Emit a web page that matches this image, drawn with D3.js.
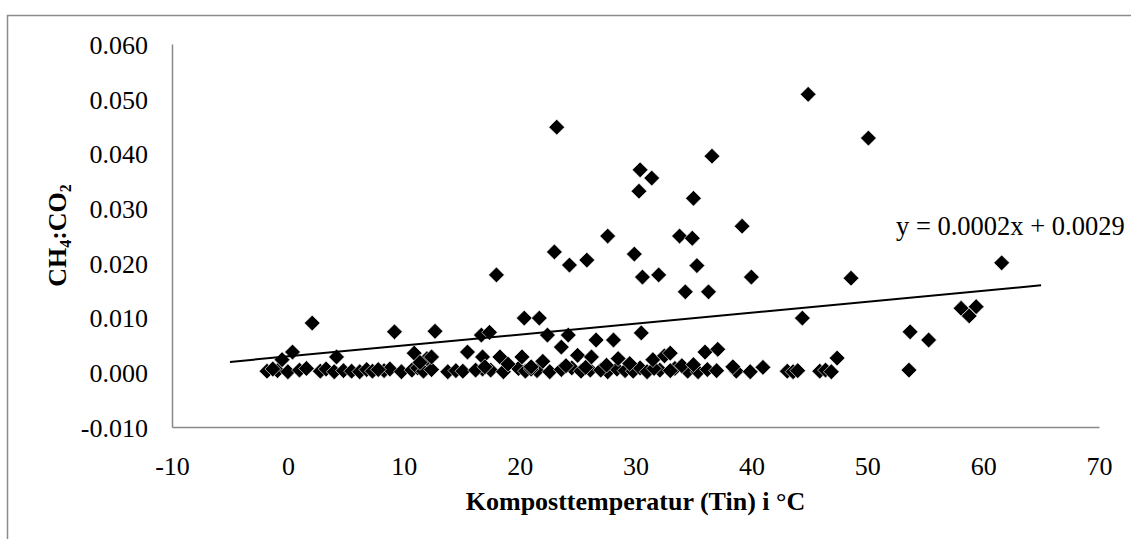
<!DOCTYPE html>
<html lang="en">
<head>
    <meta charset="UTF-8">
    <title>CH4:CO2 vs Komposttemperatur</title>
    <style>
        body {
            margin: 0;
            background: #fff;
        }
        svg text {
            font-family: "Times New Roman", "Liberation Serif", serif;
            fill: #000;
        }
        .axis path {
            stroke: #898989;
            stroke-width: 1.5;
        }
        .axis text {
            font-size: 26px;
        }
        .title {
            font-size: 26px;
            font-weight: bold;
        }
    </style>
</head>
<body>
<svg id="chart"></svg>

<script src="https://d3js.org/d3.v7.min.js"></script>
<script>
    // Points with a clear CH4:CO2 signal
    const highX = [0.4, 2.1, 9.2, 12.7, 16.7, 17.4, 18.0, 20.4, 21.7, 22.4,
        23.0, 23.2, 24.2, 24.3, 25.8, 26.6, 27.6, 28.1, 29.9, 30.3,
        30.4, 30.5, 30.6, 31.4, 32.0, 33.8, 34.3, 34.9, 35.0, 35.3,
        36.3, 36.6, 39.2, 40.0, 44.4, 44.9, 48.6, 50.1, 53.7, 55.3,
        53.6, 58.1, 58.8, 59.4, 61.6];
    const highY = [0.0037, 0.0090, 0.0074, 0.0075, 0.0068, 0.0073, 0.0178, 0.0099, 0.0099, 0.0068,
        0.0220, 0.0448, 0.0068, 0.0196, 0.0205, 0.0059, 0.0249, 0.0059, 0.0216, 0.0331,
        0.0370, 0.0072, 0.0174, 0.0355, 0.0178, 0.0249, 0.0147, 0.0245, 0.0318, 0.0195,
        0.0147, 0.0395, 0.0267, 0.0174, 0.0099, 0.0508, 0.0172, 0.0428, 0.0074, 0.0059,
        0.0004, 0.0117, 0.0103, 0.0120, 0.0200];

    // Points just above zero
    const midX = [-0.5, 4.2, 10.9, 12.0, 12.4, 15.5, 16.8, 17.0, 18.3, 20.2,
        21.0, 23.6, 24.0, 25.0, 26.2, 27.5, 28.5, 31.5, 32.5, 33.0,
        34.0, 36.0, 37.1, 38.4, 47.4, 11.4, 19.0, 22.0, 29.5, 35.0];
    const midY = [0.0023, 0.0028, 0.0035, 0.0025, 0.0028, 0.0037, 0.0028, 0.0010, 0.0028, 0.0028,
        0.0010, 0.0046, 0.0012, 0.0031, 0.0028, 0.0013, 0.0025, 0.0023, 0.0030, 0.0035,
        0.0012, 0.0037, 0.0042, 0.0010, 0.0026, 0.0018, 0.0015, 0.0020, 0.0016, 0.0014];

    // Points on the zero line
    const lowX = [-1.8, -0.9, 0.0, 1.0, 2.8, 3.3, 4.0, 4.8, 5.5, 6.2,
        6.8, 7.3, 8.3, 8.8, 9.8, 10.7, 11.2, 11.7, 12.4, 13.8,
        14.5, 15.1, 16.8, 17.5, 18.6, 19.9, 20.5, 21.5, 22.6, 23.6,
        24.5, 25.3, 26.1, 27.6, 28.4, 29.1, 29.8, 30.4, 31.0, 32.1,
        33.4, 34.5, 35.4, 36.2, 37.0, 38.7, 39.9, 41.0, 43.1, 43.6,
        44.0, 45.9, 46.4, 46.9, -1.3, 1.6, 7.8, 16.2, 21.0, 25.7,
        27.0, 31.6, 33.0];
    const lowY = [0.0002, 0.0003, 0.0001, 0.0004, 0.0002, 0.0006, 0.0001, 0.0003, 0.0002, 0.0001,
        0.0005, 0.0002, 0.0003, 0.0006, 0.0001, 0.0004, 0.0008, 0.0002, 0.0005, 0.0001,
        0.0003, 0.0002, 0.0006, 0.0004, 0.0001, 0.0007, 0.0002, 0.0003, 0.0001, 0.0005,
        0.0008, 0.0002, 0.0004, 0.0001, 0.0006, 0.0003, 0.0002, 0.0008, 0.0001, 0.0004,
        0.0007, 0.0002, 0.0001, 0.0005, 0.0003, 0.0002, 0.0001, 0.0009, 0.0002, 0.0001,
        0.0003, 0.0002, 0.0004, 0.0001, 0.0006, 0.0007, 0.0005, 0.0004, 0.0006, 0.0009,
        0.0004, 0.0007, 0.0003];

    // Linear trend line
    const trendSlope = 0.0002;
    const trendIntercept = 0.0029;
    const trendX = [-5, 65];

    const xTicks = [-10, 0, 10, 20, 30, 40, 50, 60, 70];
    const yTicks = [-0.010, 0.000, 0.010, 0.020, 0.030, 0.040, 0.050, 0.060];

    const width = 1131;
    const height = 539;
    const margin = {top: 44, right: 32, bottom: 112, left: 172};

    const svg = d3.select("#chart")
        .attr("width", width)
        .attr("height", height);

    // chart area border (runs off the right and bottom edges)
    svg.append("rect")
        .attr("x", 7.5)
        .attr("y", 15.5)
        .attr("width", 1300)
        .attr("height", 700)
        .attr("fill", "none")
        .attr("stroke", "#8c8c8c")
        .attr("stroke-width", 1.5);

    const x = d3.scaleLinear()
        .domain([-10, 70])
        .range([margin.left, width - margin.right]);

    const y = d3.scaleLinear()
        .domain([-0.010, 0.060])
        .range([height - margin.bottom, margin.top]);

    // y axis
    svg.append("g")
        .attr("class", "axis")
        .attr("transform", `translate(${margin.left},0)`)
        .call(d3.axisLeft(y).tickValues(yTicks).tickSize(0).tickPadding(24)
            .tickFormat(d3.format(".3f")))
        .call(g => g.selectAll("text").attr("dy", "0.36em"));

    // x axis at the bottom of the plot
    svg.append("g")
        .attr("class", "axis")
        .attr("transform", `translate(0,${y(-0.010)})`)
        .call(d3.axisBottom(x).tickValues(xTicks).tickSize(0).tickPadding(30)
            .tickFormat(d3.format("d")));

    svg.selectAll(".axis text").text(function () {
        return this.textContent.replace("−", "-");
    });

    // markers
    const points = [];
    lowX.forEach((v, i) => points.push([v, lowY[i]]));
    midX.forEach((v, i) => points.push([v, midY[i]]));
    highX.forEach((v, i) => points.push([v, highY[i]]));

    const diamond = d3.symbol().type(d3.symbolSquare).size(125);

    svg.append("g")
        .selectAll("path")
        .data(points)
        .join("path")
        .attr("d", diamond)
        .attr("transform", d => `translate(${x(d[0])},${y(d[1])}) rotate(45)`)
        .attr("fill", "#000")
        .attr("stroke", "#fff")
        .attr("stroke-width", 0.6);

    // trend line
    const line = d3.line()
        .x(d => x(d))
        .y(d => y(trendSlope * d + trendIntercept));

    svg.append("path")
        .datum(trendX)
        .attr("d", line)
        .attr("fill", "none")
        .attr("stroke", "#000")
        .attr("stroke-width", 2);

    svg.append("text")
        .attr("x", 896)
        .attr("y", 235)
        .style("font-size", "26.5px")
        .text(`y = ${trendSlope.toFixed(4)}x + ${trendIntercept.toFixed(4)}`);

    // axis titles
    svg.append("text")
        .attr("class", "title")
        .attr("x", (margin.left + width - margin.right) / 2)
        .attr("y", 510)
        .attr("text-anchor", "middle")
        .text("Komposttemperatur (Tin) i °C");

    const yTitle = svg.append("text")
        .attr("class", "title")
        .attr("text-anchor", "middle")
        .attr("transform", `translate(66,${(y(-0.010) + y(0.060)) / 2}) rotate(-90)`);
    yTitle.append("tspan").text("CH");
    yTitle.append("tspan").attr("dy", 5).style("font-size", "16px").text("4");
    yTitle.append("tspan").attr("dy", -5).text(":CO");
    yTitle.append("tspan").attr("dy", 5).style("font-size", "16px").text("2");
</script>
</body>
</html>
